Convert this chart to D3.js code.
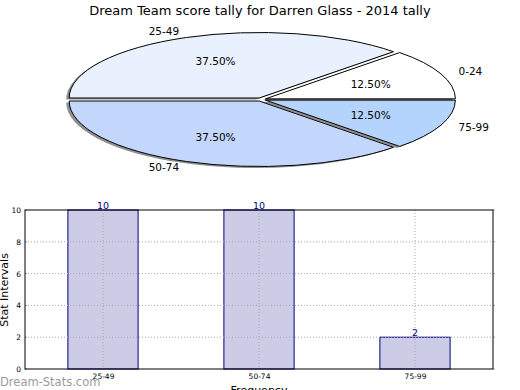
<!DOCTYPE html>
<html><head><meta charset="utf-8">
<script src="https://cdn.jsdelivr.net/npm/d3@7"></script>
<style>body{margin:0;background:#fff}svg{display:block;font-family:"DejaVu Sans",sans-serif}</style>
</head><body><svg id="c" width="520" height="390"></svg>
<script>
const title = "Dream Team score tally for Darren Glass - 2014 tally";
const pieLabels = ["0-24", "25-49", "50-74", "75-99"];
const pieValues = [12.5, 37.5, 37.5, 12.5];
const pieColors = ["#ffffff", "#e9f0fe", "#c3d7fd", "#b4d4fe"];
const barCats = ["25-49", "50-74", "75-99"];
const barValues = [10, 10, 2];
const yTicks = [0, 2, 4, 6, 8, 10];

const svg = d3.select("#c");
svg.append("text").attr("x", 260).attr("y", 15).attr("text-anchor", "middle")
  .attr("font-size", 13).attr("fill", "#000").text(title);

// Pie
const cx = 261, cy = 99.5, rx = 190, ry = 65.5, ex = 0.025;
const pie = d3.pie().sort(null).startAngle(Math.PI / 2).endAngle(Math.PI / 2 - 2 * Math.PI);
const arcs = pie(pieValues);
const arc = d3.arc().innerRadius(0).outerRadius(1);
const pg = svg.append("g");
arcs.forEach((a, i) => {
  const m = (a.startAngle + a.endAngle) / 2;
  a.ox = ex * rx * Math.sin(m); a.oy = -ex * ry * Math.cos(m); a.m = m;
});
arcs.forEach((a, i) => {
  pg.append("path").attr("d", arc(a))
    .attr("transform", `translate(${cx + a.ox - 3},${cy + a.oy + 1.5}) scale(${rx},${ry})`)
    .attr("fill", "#333").attr("fill-opacity", 0.55).attr("stroke", "none");
});
arcs.forEach((a, i) => {
  pg.append("path").attr("d", arc(a))
    .attr("transform", `translate(${cx + a.ox},${cy + a.oy}) scale(${rx},${ry})`)
    .attr("fill", pieColors[i]).attr("stroke", "#000").attr("stroke-width", 1)
    .attr("vector-effect", "non-scaling-stroke");
});
arcs.forEach((a, i) => {
  const px = cx + a.ox + 1.1 * rx * Math.sin(a.m), py = cy + a.oy - 1.1 * ry * Math.cos(a.m);
  pg.append("text").attr("x", px).attr("y", py).attr("dy", "0.35em")
    .attr("text-anchor", px < cx ? "end" : "start").attr("font-size", 10.5).text(pieLabels[i]);
  const qx = cx + a.ox + 0.6 * rx * Math.sin(a.m), qy = cy + a.oy - 0.6 * ry * Math.cos(a.m);
  pg.append("text").attr("x", qx).attr("y", qy).attr("dy", "0.35em")
    .attr("text-anchor", "middle").attr("font-size", 10.5)
    .text(d3.format(".2f")(pieValues[i]) + "%");
});

// Bars
const L = 25, R = 493, T = 210, B = 369;
const x = d3.scalePoint().domain(barCats).range([L, R]).padding(0.5);
const y = d3.scaleLinear().domain([0, 10]).range([B, T]);
const bw = x.step() * 0.45;
const bg = svg.append("g");
bg.selectAll("rect.bar").data(barValues).enter().append("rect")
  .attr("x", (d, i) => x(barCats[i]) - bw / 2).attr("y", d => y(d))
  .attr("width", bw).attr("height", d => B - y(d))
  .attr("fill", "#ccccE6").attr("stroke", "#000080").attr("stroke-width", 1);
// grid
yTicks.forEach(t => {
  if (t === 0 || t === 10) return;
  bg.append("line").attr("x1", L).attr("x2", R).attr("y1", y(t)).attr("y2", y(t))
    .attr("stroke", "#aaa").attr("stroke-dasharray", "1,2");
});
barCats.forEach(c => {
  bg.append("line").attr("x1", x(c)).attr("x2", x(c)).attr("y1", T).attr("y2", B)
    .attr("stroke", "#aaa").attr("stroke-dasharray", "1,2");
});
// axes
const ya = d3.axisLeft(y).tickValues(yTicks).tickSize(0).tickPadding(4);
bg.append("g").attr("transform", `translate(${L},0)`).call(ya)
  .call(g => g.select(".domain").remove())
  .selectAll("text").attr("font-size", 7.5).attr("font-family", "DejaVu Sans").attr("fill", "#000");
const xa = d3.axisBottom(x).tickSize(0).tickPadding(5);
bg.append("g").attr("transform", `translate(0,${B})`).call(xa)
  .call(g => g.select(".domain").remove())
  .selectAll("text").attr("font-size", 7.5).attr("font-family", "DejaVu Sans").attr("fill", "#000");
yTicks.forEach(t => {
  bg.append("line").attr("x1", R).attr("x2", R + 2).attr("y1", y(t)).attr("y2", y(t)).attr("stroke", "#aaa");
  bg.append("line").attr("x1", L).attr("x2", L + 2).attr("y1", y(t)).attr("y2", y(t)).attr("stroke", "#aaa");
});
bg.append("rect").attr("x", L).attr("y", T).attr("width", R - L).attr("height", B - T)
  .attr("fill", "none").attr("stroke", "#000").attr("stroke-width", 1);
bg.selectAll("text.val").data(barValues).enter().append("text")
  .attr("x", (d, i) => x(barCats[i])).attr("y", d => y(d) - 1)
  .attr("text-anchor", "middle").attr("font-size", 9.5).attr("fill", "#000080").text(d => d);
svg.append("text").attr("transform", "translate(8,290) rotate(-90)").attr("text-anchor", "middle")
  .attr("font-size", 11).text("Stat Intervals");
svg.append("text").attr("x", 259).attr("y", 394).attr("text-anchor", "middle")
  .attr("font-size", 11).text("Frequency");
svg.append("text").attr("x", 0).attr("y", 385.5).attr("font-size", 11.5).attr("fill", "#9a9a9a")
  .text("Dream-Stats.com");
</script></body></html>
